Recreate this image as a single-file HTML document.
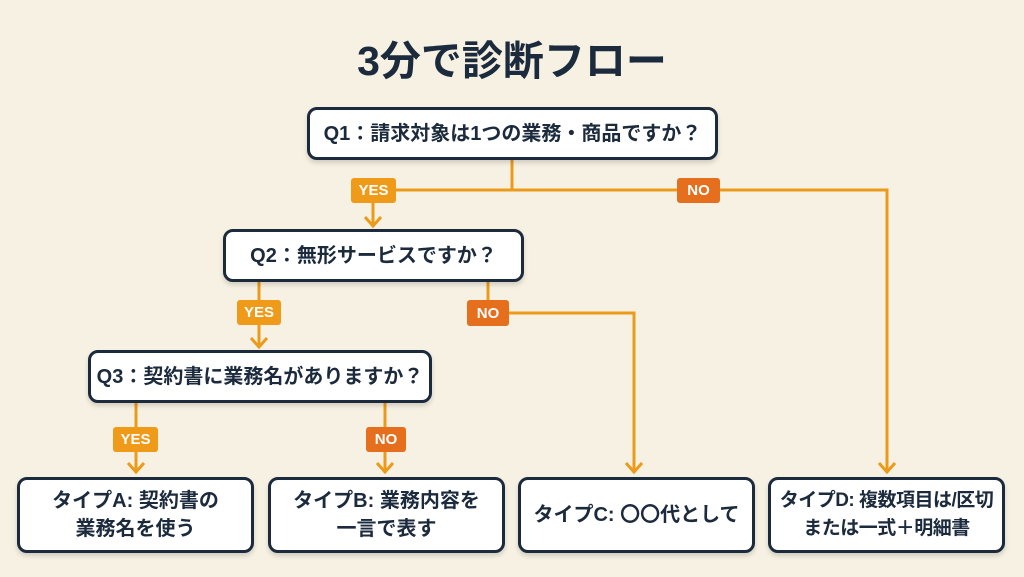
<!DOCTYPE html>
<html><head><meta charset="utf-8"><style>
body{margin:0;width:1024px;height:577px;background:#f6f1e2;font-family:"Liberation Sans","Noto Sans CJK JP",sans-serif;position:relative;overflow:hidden;color:#1b2a3c}
.t{position:absolute;left:0;width:1024px;top:27px;text-align:center;font-size:41px;font-weight:bold;}
.b{position:absolute;box-sizing:border-box;background:#fff;border:3px solid #1b2a3c;border-radius:10px;display:flex;align-items:center;justify-content:center;text-align:center;font-weight:bold;font-size:20px;line-height:28px;box-shadow:0 3px 5px rgba(0,0,0,.15);white-space:nowrap}
.l{position:absolute;box-sizing:border-box;color:#fff;font-weight:bold;font-size:15px;display:flex;align-items:center;justify-content:center;border-radius:3px}
.y{background:#f09a1a}.n{background:#e56f1c}
svg{position:absolute;left:0;top:0}
</style></head><body>
<div class="t">3分で診断フロー</div>
<svg width="1024" height="577"><g stroke="#ec9a1a" stroke-width="3" fill="none">
<path d="M512 160V190M373 190H887V472M373 190V225M259 282V346M488 282V313H634V472M136 403V472M385 403V472"/>
<path d="M365 217L373 226L381 217M251 338L259 347L267 338M128 463L136 472L144 463M377 463L385 472L393 463M626 463L634 472L642 463M879 463L887 472L895 463"/>
</g></svg>
<div class="b" style="left:307px;top:107px;width:411px;height:53px">Q1：請求対象は1つの業務・商品ですか？</div>
<div class="b" style="left:223px;top:229px;width:301px;height:53px">Q2：無形サービスですか？</div>
<div class="b" style="left:88px;top:350px;width:344px;height:53px">Q3：契約書に業務名がありますか？</div>
<div class="b" style="left:17px;top:477px;width:237px;height:76px">タイプA: 契約書の<br>業務名を使う</div>
<div class="b" style="left:268px;top:477px;width:237px;height:76px">タイプB: 業務内容を<br>一言で表す</div>
<div class="b" style="left:518px;top:477px;width:237px;height:76px">タイプC: 〇〇代として</div>
<div class="b" style="left:768px;top:477px;width:237px;height:76px;font-size:19px;letter-spacing:-0.5px">タイプD: 複数項目は/区切<br>または一式＋明細書</div>
<div class="l y" style="left:351px;top:178px;width:45px;height:25px">YES</div>
<div class="l n" style="left:677px;top:178px;width:43px;height:25px">NO</div>
<div class="l y" style="left:237px;top:300px;width:44px;height:25px">YES</div>
<div class="l n" style="left:467px;top:300px;width:42px;height:26px">NO</div>
<div class="l y" style="left:113px;top:427px;width:45px;height:25px">YES</div>
<div class="l n" style="left:366px;top:427px;width:40px;height:25px">NO</div>
</body></html>
